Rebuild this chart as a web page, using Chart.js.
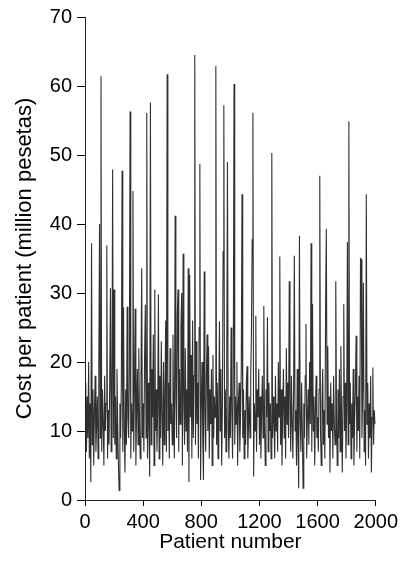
<!DOCTYPE html>
<html>
<head>
<meta charset="utf-8">
<title>Cost per patient</title>
<script src="https://cdn.jsdelivr.net/npm/chart.js@4.4.1/dist/chart.umd.min.js"></script>
<style>
    html, body { margin: 0; padding: 0; background: #fff; }
    #wrap { width: 402px; height: 567px; }
</style>
</head>
<body>
<div id="wrap"><canvas id="costChart" width="402" height="567"></canvas></div>
<script>
// cost per patient (million pesetas), one value every 5 patients
const costs = [
    12, 17, 7, 15, 9, 20, 6, 14, 2.6, 37.2, 8, 16, 5, 13, 18, 7, 11, 15, 6, 19,
    40, 9, 61.4, 7, 16, 11, 5, 18, 10, 14, 36.9, 6, 13, 8, 17, 30.7, 7, 12, 47.9, 9,
    30.5, 8, 15, 6, 19, 11, 5, 1.4, 14, 9, 17, 47.7, 7, 27.9, 10, 4, 16, 8, 28, 12,
    9, 18, 56.3, 6, 14, 10, 44.8, 7, 16, 27.7, 5, 13, 19, 8, 22, 11, 6, 17, 33.6, 9,
    14, 7, 21, 28.3, 9, 56.1, 6, 17, 11, 3.4, 57.6, 8, 19, 12, 24, 5, 30.5, 10, 16, 7,
    13, 29.8, 6, 18, 9, 23, 12, 5, 20, 8, 15, 26, 7, 61.7, 10, 17, 6, 22, 11, 14,
    8, 24, 12, 6, 41.2, 15, 9, 27, 30.5, 7, 19, 11, 25, 30, 5, 35.7, 14, 8, 22, 10,
    16, 7, 33.6, 2.6, 32.6, 12, 21, 6, 26, 9, 18, 64.5, 8, 23, 11, 17, 6, 25, 48.7, 2.9,
    14, 20, 9, 2.9, 33.1, 13, 7, 18, 24, 10, 22.3, 6, 16, 11, 19, 5, 21, 9, 15, 12,
    62.9, 8, 17, 6, 14, 25.9, 10, 19, 5, 13, 36, 57.2, 9, 16, 7, 20, 49, 11, 6, 15,
    9, 25, 13, 6, 18, 60.3, 8, 15, 11, 20, 5, 14, 17, 7, 12, 19, 44.3, 9, 16, 6,
    13, 8, 17, 19.4, 6, 11, 15, 9, 18, 24.5, 37.7, 56.1, 3.4, 14, 10, 26.7, 7, 16, 12, 19,
    8, 15, 6, 13, 18, 9, 28.1, 11, 5, 16, 12, 26.5, 7, 17, 10, 14, 6, 50.3, 9, 15,
    11, 6, 18, 10, 14, 7, 20, 12, 35.3, 8, 16, 5, 13, 19, 9, 15, 6, 22, 11, 17,
    9, 31.7, 14, 7, 18, 11, 6, 16, 35.4, 10, 13, 5, 19, 8, 1.7, 38.3, 12, 7, 17, 10,
    1.7, 14, 9, 18, 25.5, 6, 12, 16, 8, 20, 11, 37.2, 7, 28.4, 10, 15, 5, 13, 18, 9,
    12, 7, 16, 47, 10, 5, 14, 19, 8, 13, 6, 27.9, 39.3, 11, 22.3, 9, 15, 4, 17, 10,
    14, 6, 18, 11, 8, 31.7, 13, 5, 16, 9, 19, 7, 22.3, 12, 4, 15, 28.4, 10, 17, 6,
    13, 37.4, 8, 54.9, 11, 17, 6, 14, 9, 19, 5, 12, 16, 23.8, 7, 15, 10, 18, 6, 35,
    34.9, 9, 16, 31.5, 7, 13, 5, 44.3, 11, 17, 6, 14, 9, 18, 4, 12, 19.2, 8, 13, 11
];
const sampleStep = 5; // patients between two readings
const xTicks = [0, 400, 800, 1200, 1600, 2000];
const yTicks = [0, 10, 20, 30, 40, 50, 60, 70];

const points = costs.map((c, i) => ({ x: i * sampleStep, y: c }));

const fontFamily = '"Liberation Sans", Arial, Helvetica, sans-serif';

const ctx = document.getElementById('costChart').getContext('2d');
new Chart(ctx, {
    type: 'line',
    data: {
        datasets: [{
            data: points,
            borderColor: 'rgba(25, 25, 25, 0.9)',
            borderWidth: 1.1,
            pointRadius: 0,
            tension: 0,
            fill: false
        }]
    },
    options: {
        responsive: false,
        animation: false,
        devicePixelRatio: 1,
        layout: { padding: { top: 14, right: 26, left: 0, bottom: 0 } },
        plugins: {
            legend: { display: false },
            tooltip: { enabled: false }
        },
        scales: {
            x: {
                type: 'linear',
                min: 0,
                max: 2000,
                afterBuildTicks: (scale) => { scale.ticks = xTicks.map(v => ({ value: v })); },
                afterFit: (scale) => { scale.height = 67; },
                ticks: {
                    color: '#000',
                    padding: 4,
                    maxRotation: 0,
                    callback: (v) => String(v),
                    font: { family: fontFamily, size: 20 }
                },
                grid: { display: true, drawOnChartArea: false, drawTicks: true, tickLength: 6, color: '#000' },
                border: { display: true, color: '#222', width: 1 },
                title: {
                    display: true,
                    text: 'Patient number',
                    color: '#000',
                    padding: { top: 0, bottom: 12 },
                    font: { family: fontFamily, size: 21 }
                }
            },
            y: {
                min: 0,
                max: 70,
                afterBuildTicks: (scale) => { scale.ticks = yTicks.map(v => ({ value: v })); },
                afterFit: (scale) => { scale.width = 85; },
                ticks: {
                    color: '#000',
                    padding: 5,
                    callback: (v) => String(v),
                    font: { family: fontFamily, size: 20 }
                },
                grid: { display: true, drawOnChartArea: false, drawTicks: true, tickLength: 8, color: '#000' },
                border: { display: true, color: '#222', width: 1 },
                title: {
                    display: true,
                    text: 'Cost per patient (million pesetas)',
                    color: '#000',
                    padding: { top: 12, bottom: 0 },
                    font: { family: fontFamily, size: 22 }
                }
            }
        }
    }
});
</script>
</body>
</html>
